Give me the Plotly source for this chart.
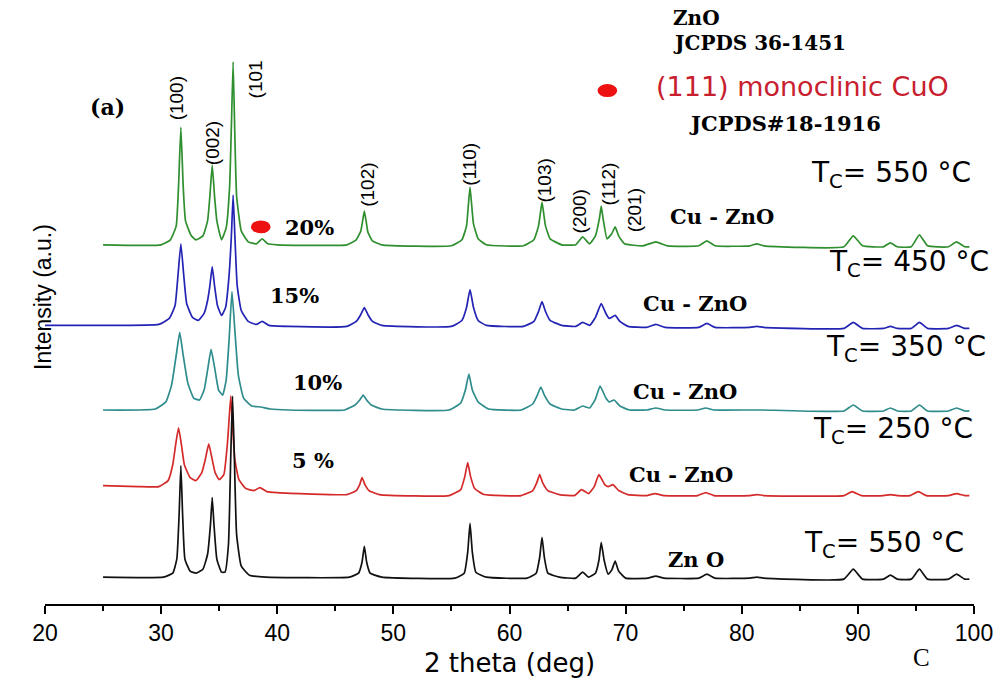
import plotly.graph_objects as go

# ---- data (intensity in arbitrary units, stacked with offsets) ----
green_pts = [(25,361),(30.0,361),(30.8,366),(31.3,380),(31.5,420),(31.7,479),(31.9,420),(32.1,385),(32.6,370),(33.0,366),
             (33.6,370),(34.0,385),(34.2,410),(34.4,441),(34.6,410),(34.8,385),(35.2,366),
             (35.6,378),(35.9,420),(36.05,480),(36.2,545),(36.35,470),(36.5,410),(36.9,375),(37.5,364),(38.2,362),(38.7,367),(39.2,362),(40,361),
             (46.0,361),(46.8,366),(47.2,375),(47.35,385),(47.5,395),(47.65,385),(47.8,374),(48.2,365),(49,361),
             (55.0,360),(55.9,366),(56.3,380),(56.45,400),(56.6,419),(56.75,400),(56.9,382),(57.3,367),(58,361),
             (61.2,360),(62.1,366),(62.5,380),(62.65,392),(62.8,404),(62.95,392),(63.1,380),(63.5,367),(64.5,361),
             (65.7,361),(66.3,369),(66.9,362),(67.4,370),(67.75,388),(67.9,400),(68.05,388),(68.4,367),
             (68.8,372),(69.1,379),(69.4,370),(69.9,362),
             (71.5,360),(72.6,364),(73.6,360),(76.3,360),(77.0,365),(77.7,360),(80.7,360),(81.3,362),(81.9,360),
             (88.8,359),(89.6,370),(90.4,360),(92.2,359),(92.8,363),(93.4,359),(94.6,359),(95.3,371),(96.0,360),
             (97.8,359),(98.5,364),(99.2,359),(99.6,359)]

blue_pts = [(20,280),(25,280),(29.8,281),(30.7,287),(31.2,300),(31.45,330),(31.7,362),(31.95,330),(32.2,302),(32.7,288),(33.2,285),
            (33.7,292),(34.0,305),(34.2,320),(34.4,339),(34.6,320),(34.85,300),(35.2,290),
            (35.55,298),(35.85,330),(36.05,370),(36.2,411),(36.35,370),(36.55,320),(36.9,295),(37.5,284),(38.2,281),(38.7,284),(39.3,280),(41,279),
            (46,279),(46.8,284),(47.2,291),(47.5,298),(47.8,291),(48.2,284),(49,280),
            (55,279),(55.9,285),(56.3,298),(56.6,316),(56.9,298),(57.3,285),(58,280),
            (61.2,279),(62.1,284),(62.5,294),(62.8,304),(63.1,294),(63.5,285),(64.5,280),
            (65.7,279),(66.3,283),(66.9,280),(67.4,288),(67.9,302),(68.3,292),(68.6,287),(69.1,290),(69.5,284),(70.2,279),
            (71.8,278),(72.6,281),(73.4,278),(76.3,278),(77.0,282),(77.7,278),(80.7,278),(81.3,279),(81.9,278),
            (88.8,277),(89.6,283),(90.4,277),(92.2,277),(92.8,279),(93.4,277),(94.6,277),(95.3,283),(96.0,277),
            (97.8,277),(98.5,280),(99.2,277),(99.6,277)]

teal_pts = [(25,195),(29.5,196),(30.4,203),(30.9,220),(31.3,250),(31.6,273),(31.9,250),(32.3,222),(32.8,207),(33.3,205),
            (33.7,215),(34.0,235),(34.3,256),(34.6,238),(34.95,215),(35.3,210),
            (35.6,225),(35.85,265),(36.1,314),(36.35,275),(36.65,230),(37.1,207),(37.8,199),(38.6,198),(39.4,196),(41,195),
            (45.8,195),(46.7,200),(47.1,205),(47.4,210),(47.7,205),(48.1,200),(49,196),
            (54.8,195),(55.8,202),(56.2,215),(56.5,231),(56.8,215),(57.3,203),(58.2,196),
            (61.0,195),(62.0,201),(62.4,210),(62.7,218),(63.0,210),(63.5,201),(64.5,196),
            (65.6,195),(66.3,199),(66.9,197),(67.4,206),(67.8,219),(68.3,207),(68.6,203),(69.0,205),(69.5,199),(70.3,195),
            (71.8,195),(72.6,197),(73.4,195),(76.2,195),(76.9,197),(77.6,195),(80.6,195),(81.3,195),(81.9,195),
            (88.8,194),(89.6,200),(90.4,194),(92.2,194),(92.8,197),(93.4,194),(94.6,194),(95.3,200),(96.0,194),
            (97.8,194),(98.5,197),(99.2,194),(99.6,194)]

red_pts = [(25,119),(28,118),(29.8,118),(30.6,124),(31.0,140),(31.25,160),(31.5,177),(31.75,160),(32.0,140),(32.5,127),(33.0,124),
           (33.5,132),(33.8,145),(34.1,161),(34.35,148),(34.65,132),(35.0,125),
           (35.4,130),(35.7,160),(35.85,185),(36.0,209),(36.15,180),(36.35,145),(36.7,125),(37.3,116),(38.0,114),(38.5,117),(39.1,113),(40,112),
           (46.0,110),(46.8,114),(47.1,120),(47.3,127),(47.55,120),(47.9,114),(48.8,110),
           (54.8,109),(55.8,115),(56.15,128),(56.4,142),(56.65,128),(57.0,116),(57.8,110),
           (61.0,109),(62.0,114),(62.35,122),(62.6,130),(62.85,122),(63.3,114),(64.3,110),
           (65.6,109),(66.2,115),(66.8,111),(67.3,118),(67.7,130),(68.2,120),(68.5,118),(68.9,120),(69.4,114),(70.2,110),
           (71.8,109),(72.5,111),(73.3,109),(76.2,109),(76.9,112),(77.6,109),(80.7,109),(81.3,110),(81.9,109),
           (88.8,109),(89.5,113),(90.3,109),(92.2,109),(92.8,110),(93.4,109),(94.5,109),(95.2,113),(95.9,109),
           (97.8,109),(98.5,111),(99.2,109),(99.6,109)]

black_pts = [(25,27),(30.2,27),(31.0,31),(31.35,45),(31.55,90),(31.7,139),(31.85,90),(32.05,45),(32.5,33),(33.0,31),
             (33.6,35),(34.0,50),(34.25,80),(34.4,107),(34.55,80),(34.8,45),(35.2,32),
             (35.5,32),(35.8,60),(36.0,150),(36.15,209),(36.3,150),(36.5,70),(36.9,38),(37.6,29),(39,27),
             (46.2,27),(47.0,31),(47.3,42),(47.5,58),(47.7,42),(48.0,31),(49,27),
             (55.3,26),(56.1,31),(56.4,52),(56.6,81),(56.8,52),(57.1,32),(58,27),
             (61.5,26),(62.3,31),(62.6,47),(62.8,67),(63.0,47),(63.3,31),(64.3,27),
             (65.7,26),(66.3,32),(66.8,27),(67.4,31),(67.7,44),(67.9,62),(68.15,44),(68.5,30),(68.8,34),(69.1,43),(69.4,33),(70.0,26),
             (71.9,26),(72.6,28),(73.3,26),(76.3,26),(77.0,30),(77.7,26),(80.7,26),(81.3,27),(81.9,26),
             (88.8,25),(89.6,35),(90.4,25),(92.2,25),(92.8,29),(93.4,25),(94.6,25),(95.3,35),(96.0,25),
             (97.8,25),(98.5,30),(99.2,25),(99.6,25)]

series = [("20% Cu-ZnO", green_pts, "#2f8f2f"),
          ("15% Cu-ZnO", blue_pts, "#2424b4"),
          ("10% Cu-ZnO", teal_pts, "#2e8c8c"),
          ("5% Cu-ZnO", red_pts, "#d42a2a"),
          ("ZnO", black_pts, "#111111")]

hkl_labels = ["(100)", "(002)", "(101", "(102)", "(110)", "(103)", "(200)", "(112)", "(201)"]
hkl_x = [31.35, 34.37, 38.15, 47.70, 56.56, 63.01, 66.11, 68.52, 70.84]
hkl_y = [508, 463, 527, 421, 442, 426, 395, 422, 396]

cuo_marker_x = [38.58, 68.43]
cuo_marker_y = [379, 516]

pct_labels = ["20%", "15%", "10%", "5 %"]
pct_x = [42.8, 41.5, 43.5, 43.1]
pct_y = [378, 310, 223, 144]

sample_labels = ["Cu - ZnO", "Cu - ZnO", "Cu - ZnO", "Cu - ZnO", "Zn O"]
sample_x = [78.3, 76.0, 75.1, 74.8, 76.1]
sample_y = [389, 302, 214, 130, 45]

temp_labels = ["550", "450", "350", "250", "550"]
temp_x = [85.8, 87.35, 87.1, 86.0, 85.2]
temp_y = [432, 342, 257, 174, 60]

fig = go.Figure()
for name, pts, col in series:
    xs = [p[0] for p in pts]
    ys = [p[1] for p in pts]
    fig.add_trace(go.Scatter(x=xs, y=ys, mode="lines", name=name,
                             line=dict(color=col, width=1.7, shape="spline", smoothing=0.4),
                             showlegend=False, hoverinfo="skip"))

# CuO markers (ellipses)
for cx, cy in zip(cuo_marker_x, cuo_marker_y):
    fig.add_shape(type="circle", xref="x", yref="y", x0=cx - 0.85, x1=cx + 0.85,
                  y0=cy - 6.5, y1=cy + 6.5, fillcolor="#ee1111", line=dict(width=0))

bserif = "DejaVu Serif"
sans = "Liberation Sans"
wsans = "DejaVu Sans"
ann = []
for t, x, y in zip(hkl_labels, hkl_x, hkl_y):
    ann.append(dict(x=x, y=y, text=t, textangle=-90, showarrow=False,
                    font=dict(family=sans, size=19, color="black")))
for t, x, y in zip(pct_labels, pct_x, pct_y):
    ann.append(dict(x=x, y=y, text="<b>%s</b>" % t, showarrow=False,
                    font=dict(family=bserif, size=21, color="black")))
for t, x, y in zip(sample_labels, sample_x, sample_y):
    ann.append(dict(x=x, y=y, text="<b>%s</b>" % t, showarrow=False,
                    font=dict(family=bserif, size=21, color="black")))
for t, x, y in zip(temp_labels, temp_x, temp_y):
    ann.append(dict(x=x, y=y, text="T<sub>C</sub>= %s °C" % t, showarrow=False, xanchor="left",
                    font=dict(family=wsans, size=28, color="black")))

ann += [
    dict(x=25.42, y=500, text="<b>(a)</b>", showarrow=False, font=dict(family=bserif, size=22, color="black")),
    dict(x=73.94, y=589, text="<b>ZnO</b>", showarrow=False, xanchor="left", font=dict(family=bserif, size=20, color="black")),
    dict(x=73.94, y=564, text="<b>JCPDS 36-1451</b>", showarrow=False, xanchor="left", font=dict(family=bserif, size=20, color="black")),
    dict(x=72.45, y=520, text="(111) monoclinic CuO", showarrow=False, xanchor="left", font=dict(family=wsans, size=27, color="#c8202e")),
    dict(x=75.3, y=483, text="<b>JCPDS#18-1916</b>", showarrow=False, xanchor="left", font=dict(family=bserif, size=21, color="black")),
    dict(xref="paper", yref="paper", x=-0.019, y=0.515, text="Intensity (a.u.)", textangle=-90, showarrow=False,
         font=dict(family=sans, size=23, color="black")),
    dict(xref="paper", yref="paper", x=0.955, y=-0.09, yanchor="middle", text="C", showarrow=False,
         font=dict(family="Liberation Serif", size=25, color="black")),
]

fig.update_layout(
    width=1000, height=680,
    margin=dict(l=45, r=25, t=7, b=73),
    paper_bgcolor="white", plot_bgcolor="white",
    annotations=ann,
    xaxis=dict(range=[20, 100], dtick=10, tick0=20, showline=True, linecolor="black", linewidth=1.5,
               ticks="outside", ticklen=8, tickwidth=1.5, tickcolor="black",
               minor=dict(dtick=5, ticks="outside", ticklen=5, tickwidth=1.5, tickcolor="black"),
               showgrid=False, zeroline=False,
               tickfont=dict(family="Liberation Sans Narrow, Liberation Sans", size=23, color="black"),
               title=dict(text="2 theta (deg)", font=dict(family=wsans, size=26, color="black"), standoff=8)),
    yaxis=dict(range=[0, 600], visible=False),
)

fig.write_html("out.html")
